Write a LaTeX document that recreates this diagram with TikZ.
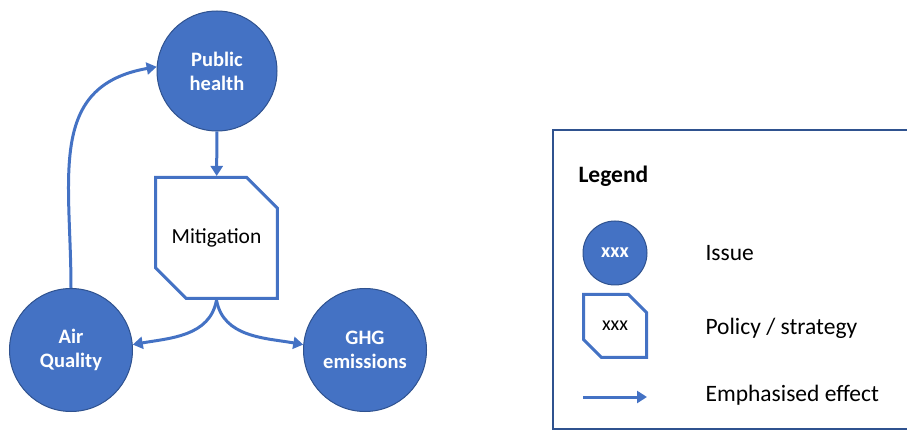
\documentclass[tikz,border=0pt]{standalone}
\usepackage{fontspec}
\setmainfont{Carlito}
\usetikzlibrary{calc, shapes.misc, arrows.meta}
\definecolor{issueblue}{HTML}{4472C4}
\definecolor{issuedark}{HTML}{2F528F}
\tikzset{
    issue/.style = {circle, fill = issueblue, draw = issuedark, line width = 1pt, text = white, align = center, font = \fontsize{20.5}{24}\selectfont\bfseries},
    policy/.style = {chamfered rectangle, chamfered rectangle corners = {north east, south west}, draw = issueblue, line width = 3pt, fill = white, align = center},
    effect/.style = {issueblue, line width = 3pt, -{Triangle[length = 10pt, width = 12pt]}}
}

\begin{document}
\begin{tikzpicture}[x = 1pt, y = 1pt]
            \clip (0, 0) rectangle (907, 431);
            \coordinate (health_pos) at (217, 360);
            \coordinate (air_pos) at (71, 81);
            \coordinate (ghg_pos) at (365, 81);
            \coordinate (mitig_pos) at (216.5, 193);
            
            \node[issue, minimum size = 120pt] (health) at (health_pos) {Public\\health};
            \node[issue, minimum size = 123pt] (air) at (air_pos) {Air\\Quality};
            \node[issue, minimum size = 123pt] (ghg) at (ghg_pos) {GHG\\emissions};
            \node[policy, minimum width = 121pt, minimum height = 121pt, chamfered rectangle xsep = 18pt, chamfered rectangle ysep = 18pt, font = \fontsize{21.5}{25}\selectfont] (mitig) at (mitig_pos) {Mitigation};
            
            \draw[effect] (health) -- (mitig);
            \draw[effect] (mitig.south) to[out = -100, in = 10] (air.5);
            \draw[effect] (mitig.south) to[out = -80, in = 170] (ghg.175);
            \draw[effect] (air.north) to[out = 90, in = 190, looseness = 1.2] (health.176);
            
            \draw[issuedark, line width = 2.5pt] (553, 2) rectangle (915, 301);
            \node[anchor = west, font = \fontsize{23.5}{28}\selectfont\bfseries] (legend_title) at (575, 255) {Legend};
            
            \node[issue, minimum size = 64pt, font = \fontsize{20}{24}\selectfont\bfseries] (legend_issue) at (615, 178) {xxx};
            \node[anchor = west, font = \fontsize{23.5}{28}\selectfont] (issue_text) at (702, 178) {Issue};
            
            \node[policy, minimum width = 63pt, minimum height = 63pt, chamfered rectangle xsep = 10pt, chamfered rectangle ysep = 10pt, font = \fontsize{20}{24}\selectfont] (legend_policy) at (615, 105) {xxx};
            \node[anchor = west, font = \fontsize{23.5}{28}\selectfont] (policy_text) at (702, 103) {Policy / strategy};
            
            \coordinate (legend_from) at (583, 34);
            \coordinate (legend_to) at (647, 34);
            \draw[effect] (legend_from) -- (legend_to);
            \node[anchor = west, font = \fontsize{23.5}{28}\selectfont] (effect_text) at (702, 36) {Emphasised effect};
        \end{tikzpicture}
\end{document}
